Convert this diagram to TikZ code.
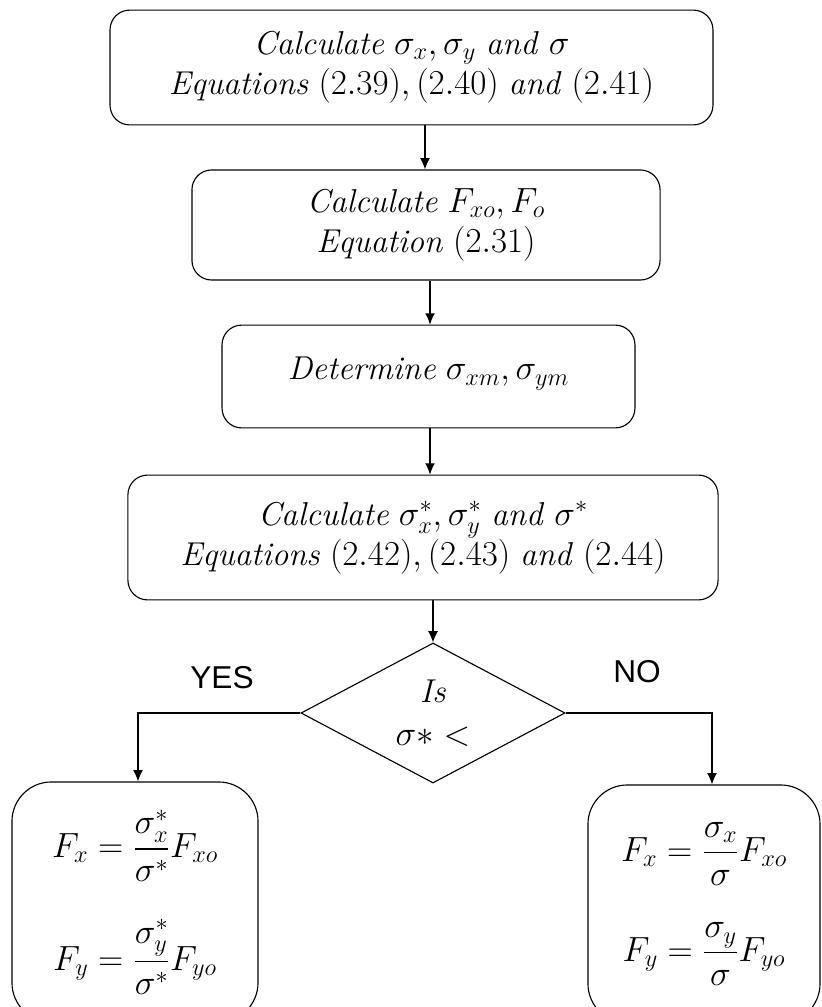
\documentclass[tikz,border=0pt]{standalone}
\usepackage{amsmath}
\usepackage{fontspec}
\newfontfamily\labelfont{Liberation Sans}
\usetikzlibrary{shapes.geometric, arrows.meta}

\tikzset{
  stepbox/.style={draw, rounded corners=14pt, align=center, thick},
  flow/.style={-{Latex[length=8pt,width=7pt]}, thick},
}

\begin{document}
\begin{tikzpicture}[x=0.025cm, y=-0.025cm, font=\fontsize{23.5}{28.5}\selectfont]
\useasboundingbox (0,0) rectangle (822,1007);
\begin{scope}
\clip (0,0) rectangle (822,1007);

% boxes on the main line
\node[stepbox, minimum width=15.07cm, minimum height=2.87cm] (calc) at (411.5,67.5)
  {\textit{Calculate} $\sigma_x,\sigma_y$ \textit{and} $\sigma$\\
   \textit{Equations} $(2.39),(2.40)$ \textit{and} $(2.41)$};
\node[stepbox, minimum width=11.7cm, minimum height=2.75cm] (force) at (426,225)
  {\textit{Calculate} $F_{xo},F_o$\\ \textit{Equation} $(2.31)$};
\node[stepbox, minimum width=10.32cm, minimum height=2.57cm] (det) at (428.5,376.5)
  {\raisebox{0.4cm}{\textit{Determine} $\sigma_{xm}, \sigma_{ym}$}};
\node[stepbox, minimum width=14.75cm, minimum height=3.12cm] (star) at (423,537.5)
  {\textit{Calculate} $\sigma_x^*,\sigma_y^*$ \textit{and} $\sigma^*$\\
   \textit{Equations} $(2.42),(2.43)$ \textit{and} $(2.44)$};

% decision
\node[draw, thick, diamond, aspect=1.9, minimum width=6.6cm, minimum height=3.5cm,
  inner sep=0pt, align=center] (test) at (433,713)
  {\textit{Is}\\[2pt] $\sigma * <$};

% result boxes
\node[stepbox, rounded corners=28pt, minimum width=6.15cm, minimum height=6.0cm] (yes) at (135,902)
  {$F_x = \dfrac{\sigma_x^*}{\sigma^*}F_{xo}$\\[0.9cm]
   $F_y = \dfrac{\sigma_y^*}{\sigma^*}F_{yo}$};
\node[stepbox, rounded corners=28pt, minimum width=5.8cm, minimum height=5.95cm] (no) at (704,904)
  {$F_x = \dfrac{\sigma_x}{\sigma}F_{xo}$\\[0.9cm]
   $F_y = \dfrac{\sigma_y}{\sigma}F_{yo}$};

% arrows
\draw[flow] (calc.south -| 425,0) -- (force.north -| 425,0);
\draw[flow] (force.south -| 430,0) -- (det.north -| 430,0);
\draw[flow] (det.south -| 430,0) -- (star.north -| 430,0);
\draw[flow] (star.south -| test.north) -- (test.north);
\draw[flow] (test.west) -| (yes.north -| 138,0);
\draw[flow] (test.east) -| (no.north -| 712,0);

% branch labels
\node[font=\labelfont\fontsize{22.5}{24}\selectfont] (yeslbl) at (222,678) {YES};
\node[font=\labelfont\fontsize{22.5}{24}\selectfont] (nolbl) at (637,672) {NO};
\end{scope}
\end{tikzpicture}
\end{document}
